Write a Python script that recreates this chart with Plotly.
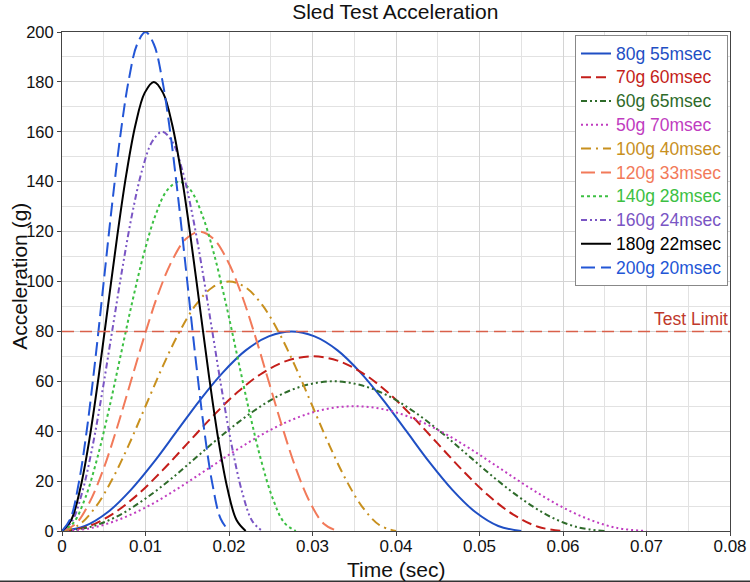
import plotly.graph_objects as go

labels = ["80g 55msec", "70g 60msec", "60g 65msec", "50g 70msec", "100g 40msec",
          "120g 33msec", "140g 28msec", "160g 24msec", "180g 22msec", "200g 20msec"]
durations = [0.055, 0.060, 0.065, 0.070, 0.040, 0.033, 0.028, 0.024, 0.022, 0.020]

acc_80 = [0, 2.0, 7.6, 16.5, 27.6, 40, 52.4, 63.5, 72.4, 78.0, 80, 78.0, 72.4, 63.5, 52.4, 40, 27.6, 16.5, 7.6, 2.0, 0]
acc_70 = [0, 1.7, 6.7, 14.4, 24.2, 35, 45.8, 55.6, 63.3, 68.3, 70, 68.3, 63.3, 55.6, 45.8, 35, 24.2, 14.4, 6.7, 1.7, 0]
acc_60 = [0, 1.5, 5.7, 12.4, 20.7, 30, 39.3, 47.6, 54.3, 58.5, 60, 58.5, 54.3, 47.6, 39.3, 30, 20.7, 12.4, 5.7, 1.5, 0]
acc_50 = [0, 1.2, 4.8, 10.3, 17.3, 25, 32.7, 39.7, 45.2, 48.8, 50, 48.8, 45.2, 39.7, 32.7, 25, 17.3, 10.3, 4.8, 1.2, 0]
acc_100 = [0, 2.4, 9.5, 20.6, 34.5, 50, 65.5, 79.4, 90.5, 97.6, 100, 97.6, 90.5, 79.4, 65.5, 50, 34.5, 20.6, 9.5, 2.4, 0]
acc_120 = [0, 2.9, 11.5, 24.7, 41.5, 60, 78.5, 95.3, 108.5, 117.1, 120, 117.1, 108.5, 95.3, 78.5, 60, 41.5, 24.7, 11.5, 2.9, 0]
acc_140 = [0, 3.4, 13.4, 28.9, 48.4, 70, 91.6, 111.1, 126.6, 136.6, 140, 136.6, 126.6, 111.1, 91.6, 70, 48.4, 28.9, 13.4, 3.4, 0]
acc_160 = [0, 3.9, 15.3, 33.0, 55.3, 80, 104.7, 127.0, 144.7, 156.1, 160, 156.1, 144.7, 127.0, 104.7, 80, 55.3, 33.0, 15.3, 3.9, 0]
acc_180 = [0, 4.4, 17.2, 37.1, 62.2, 90, 117.8, 142.9, 162.8, 175.6, 180, 175.6, 162.8, 142.9, 117.8, 90, 62.2, 37.1, 17.2, 4.4, 0]
acc_200 = [0, 4.9, 19.1, 41.2, 69.1, 100, 130.9, 158.8, 180.9, 195.1, 200, 195.1, 180.9, 158.8, 130.9, 100, 69.1, 41.2, 19.1, 4.9, 0]
series = [acc_80, acc_70, acc_60, acc_50, acc_100, acc_120, acc_140, acc_160, acc_180, acc_200]

test_limit = 80
x_ticks = [0, 0.01, 0.02, 0.03, 0.04, 0.05, 0.06, 0.07, 0.08]

colors = ["#1f4fc4", "#c41e1a", "#2e6b2a", "#c03cc0", "#c8901e",
          "#f27a5a", "#3cc043", "#7a55c4", "#000000", "#2356d6"]
dashes = ["solid", "10px,5px", "6px,3px,2px,3px,2px,3px", "2px,3px", "10px,5px,2px,5px",
          "14px,6px", "3px,3px", "6px,3px,2px,3px,2px,3px", "solid", "14px,6px"]

FONT = "Liberation Sans, Arial, sans-serif"
fig = go.Figure()
for lab, dur, vals, col, dsh in zip(labels, durations, series, colors, dashes):
    n = len(vals) - 1
    t = [dur * k / n for k in range(n + 1)]
    fig.add_trace(go.Scatter(
        x=t, y=vals, mode="lines", line=dict(color=col, width=2, dash=dsh, shape="spline"),
        name=f"<span style='color:{col};font-size:17.5px'>{lab}</span>"))

fig.add_shape(type="line", xref="paper", yref="y", x0=0, x1=1, y0=test_limit, y1=test_limit,
              line=dict(color="#d9604a", width=1.5, dash="12px,6px"))
fig.add_annotation(xref="paper", yref="y", x=1, y=test_limit, xanchor="right", yanchor="bottom",
                   text="Test Limit", showarrow=False, font=dict(size=17.5, color="#c0392b", family=FONT),
                   xshift=0, yshift=0)
fig.add_shape(type="line", xref="paper", yref="paper", x0=-0.1, x1=1.05, y0=-0.101, y1=-0.101,
              line=dict(color="#333", width=2))
# axis titles
fig.add_annotation(xref="paper", yref="paper", x=0.5, y=-0.077, xanchor="center", yanchor="middle",
                   text="Time (sec)", showarrow=False, font=dict(size=21, family=FONT, color="#111"))
fig.add_annotation(xref="paper", yref="paper", x=-0.064, y=0.51, xanchor="center", yanchor="middle",
                   text="Acceleration (g)", textangle=-90, showarrow=False,
                   font=dict(size=21, family=FONT, color="#111"))

fig.update_layout(
    width=750, height=582,
    margin=dict(l=62, r=20, t=32, b=51),
    paper_bgcolor="white", plot_bgcolor="white",
    font=dict(family=FONT, size=17, color="#111"),
    title=dict(text="Sled Test Acceleration", x=0.527, xanchor="center", y=0.98, yanchor="middle",
               font=dict(size=21, family=FONT, color="#111")),
    legend=dict(x=0.997, xanchor="right", y=0.993, yanchor="top", bgcolor="white",
                bordercolor="#888", borderwidth=1, font=dict(size=16, family=FONT),
                itemwidth=30),
    showlegend=True,
)
fig.update_xaxes(range=[0, 0.08], tickvals=x_ticks, ticktext=[f"{v:g}" for v in x_ticks],
                 automargin=False,
                 showline=True, linecolor="#444", linewidth=1, mirror=True,
                 ticks="outside", ticklen=4, tickcolor="#444", ticklabelstandoff=-4,
                 showgrid=True, gridcolor="#d4d4d4", zeroline=False,
                 minor=dict(dtick=0.005, showgrid=True, gridcolor="#e2e2e2"),
                 tickfont=dict(size=17, family=FONT))
fig.update_yaxes(range=[0, 200], dtick=20, automargin=False,
                 showline=True, linecolor="#444", linewidth=1, mirror=True,
                 ticks="outside", ticklen=4, tickcolor="#444",
                 showgrid=True, gridcolor="#d4d4d4", zeroline=False,
                 minor=dict(dtick=10, showgrid=True, gridcolor="#e2e2e2"),
                 tickfont=dict(size=16.5, family=FONT))

fig.write_html("out.html", config={"displayModeBar": False},
               post_script="document.body.style.margin='0';")
